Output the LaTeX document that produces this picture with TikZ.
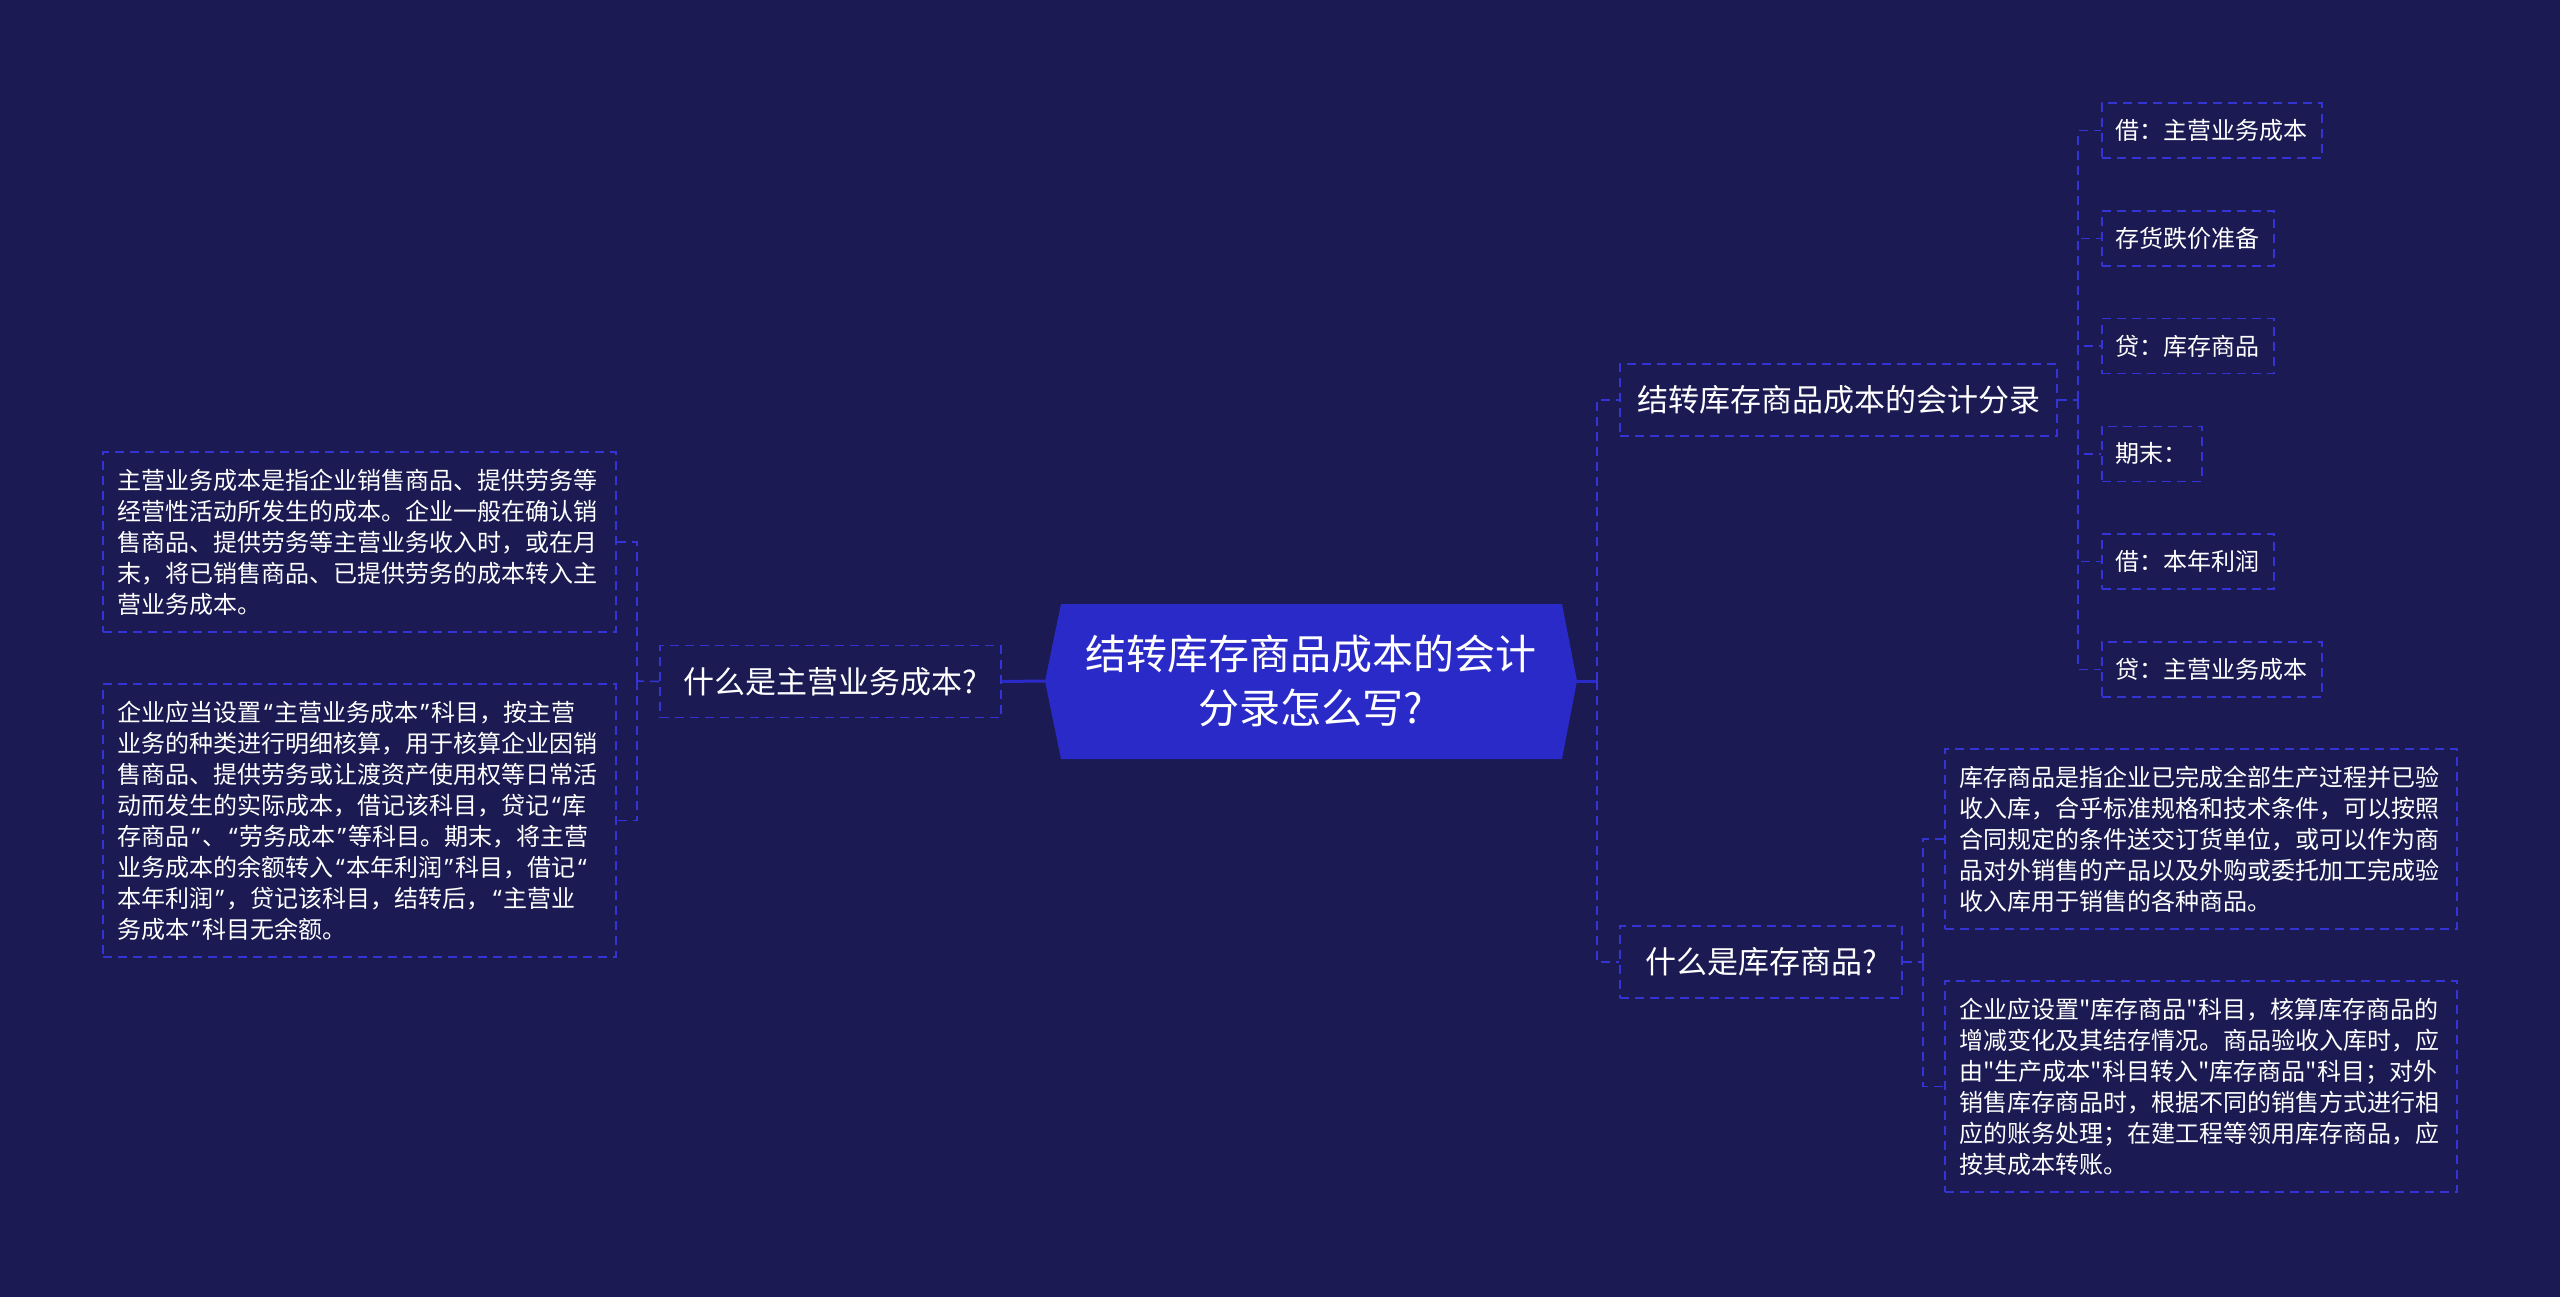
\documentclass[tikz,border=0pt]{standalone}
\usepackage{fontspec}
\newfontfamily\cjk{Noto Sans CJK SC}
\newfontfamily\latq{Noto Sans}
\newcommand{\oq}{\kern2.5pt{\latq “}\kern2pt}
\newcommand{\cq}{\kern2pt{\latq ”}\kern2.5pt}
\definecolor{bgc}{RGB}{27,26,82}
\definecolor{hexc}{RGB}{42,42,200}
\definecolor{dashc}{RGB}{52,52,212}
\begin{document}
\begin{tikzpicture}[x=1pt,y=-1pt,
  dashline/.style={draw=dashc, line width=1.6pt, dash pattern=on 9pt off 6pt},
  solidline/.style={draw=hexc, line width=3pt},
  boxbase/.style={draw=dashc, line width=1.6pt, dash pattern=on 9pt off 6pt, text=white, inner sep=0pt},
  lvone/.style={boxbase, minimum height=72pt, font=\cjk\fontsize{31}{36}\selectfont},
  leafbox/.style={boxbase, anchor=west, minimum height=55pt, inner xsep=14pt, font=\cjk\fontsize{24}{30}\selectfont},
  tbox/.style={boxbase, text width=484pt, inner xsep=14.5pt, align=left, font=\cjk\fontsize{24}{31}\selectfont}
]
\useasboundingbox (0,0) rectangle (2560,1297);
\fill[bgc] (0,0) rectangle (2560,1297);

% central hexagon
\path[fill=hexc] (1045,681) -- (1061,604) -- (1562,604) -- (1577,681) -- (1562,759) -- (1061,759) -- cycle;
\node[text=white, align=center, inner sep=0pt, font=\cjk\fontsize{41}{54}\selectfont] (root) at (1311,681) {结转库存商品成本的会计\\分录怎么写?};
\coordinate (rootW) at (1045,681);
\coordinate (rootE) at (1577,681);

% level one
\node[lvone, minimum width=341pt] (L1) at (830.5,681.5) {什么是主营业务成本?};
\node[lvone, minimum width=437pt] (R1) at (1838.5,400) {结转库存商品成本的会计分录};
\node[lvone, minimum width=282pt] (R2) at (1761,962) {什么是库存商品?};

% leaves of R1
\node[leafbox] (a1) at (2101,130.6) {借：主营业务成本};
\node[leafbox] (a2) at (2101,238.4) {存货跌价准备};
\node[leafbox] (a3) at (2101,346.1) {贷：库存商品};
\node[leafbox] (a4) at (2101,453.9) {期末：};
\node[leafbox] (a5) at (2101,561.6) {借：本年利润};
\node[leafbox] (a6) at (2101,669.4) {贷：主营业务成本};

% text boxes
\node[tbox, minimum height=180pt] (C) at (359.5,542) {主营业务成本是指企业销售商品、提供劳务等\\经营性活动所发生的成本。企业一般在确认销\\售商品、提供劳务等主营业务收入时，或在月\\末，将已销售商品、已提供劳务的成本转入主\\营业务成本。};
\node[tbox, minimum height=273pt] (D) at (359.5,820.5) {企业应当设置\oq 主营业务成本\cq 科目，按主营\\业务的种类进行明细核算，用于核算企业因销\\售商品、提供劳务或让渡资产使用权等日常活\\动而发生的实际成本，借记该科目，贷记\oq 库\\存商品\cq 、\oq 劳务成本\cq 等科目。期末，将主营\\业务成本的余额转入\oq 本年利润\cq 科目，借记\oq\\本年利润\cq ，贷记该科目，结转后，\oq 主营业\\务成本\cq 科目无余额。};
\node[tbox, text width=483pt, minimum height=180pt] (A) at (2201,839) {库存商品是指企业已完成全部生产过程并已验\\收入库，合乎标准规格和技术条件，可以按照\\合同规定的条件送交订货单位，或可以作为商\\品对外销售的产品以及外购或委托加工完成验\\收入库用于销售的各种商品。};
\node[tbox, text width=483pt, minimum height=211pt] (B) at (2201,1086.5) {企业应设置"库存商品"科目，核算库存商品的\\增减变化及其结存情况。商品验收入库时，应\\由"生产成本"科目转入"库存商品"科目；对外\\销售库存商品时，根据不同的销售方式进行相\\应的账务处理；在建工程等领用库存商品，应\\按其成本转账。};

% connectors
\coordinate (jR) at (1597,681);
\coordinate (jL) at (637,681);
\coordinate (jR1) at (2078,400);
\coordinate (jR2) at (1923,962);

\draw[solidline] (rootW) -- (L1.east);
\draw[solidline] (rootE) -- (jR);
\draw[dashline] (jR) |- (R1.west);
\draw[dashline] (jR) |- (R2.west);

\draw[dashline] (L1.west) -- (jL);
\draw[dashline] (jL) |- (C.east);
\draw[dashline] (jL) |- (D.east);

\draw[dashline] (R1.east) -- (jR1);
\foreach \n in {a1,a2,a3,a4,a5,a6} {\draw[dashline] (jR1) |- (\n.west);}

\draw[dashline] (R2.east) -- (jR2);
\draw[dashline] (jR2) |- (A.west);
\draw[dashline] (jR2) |- (B.west);
\end{tikzpicture}
\end{document}
